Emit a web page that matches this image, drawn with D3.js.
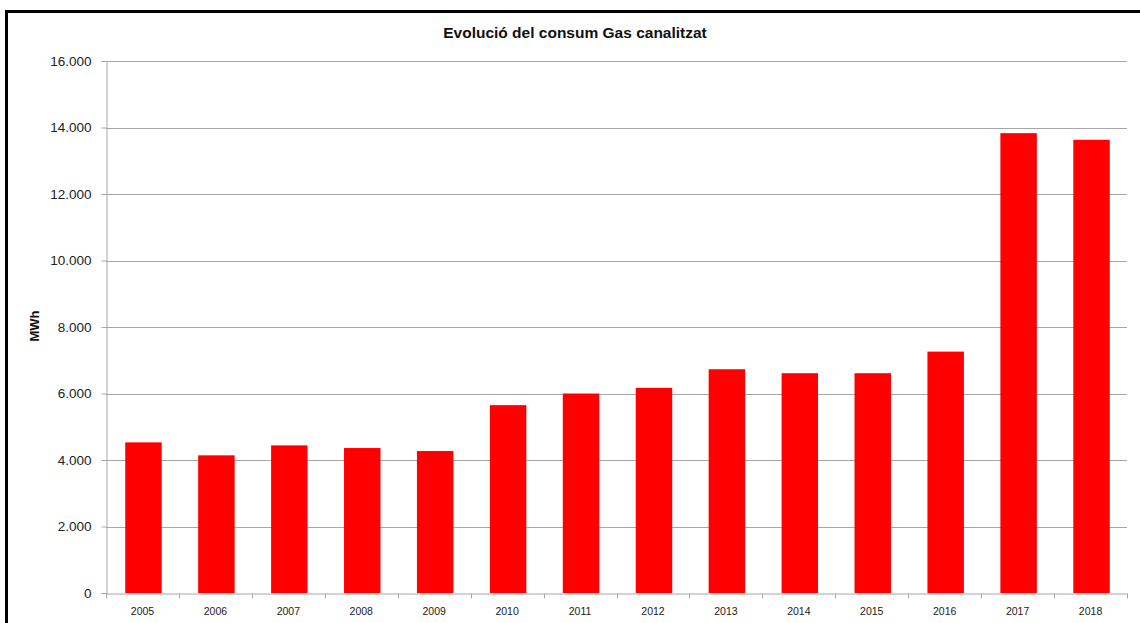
<!DOCTYPE html>
<html>
<head>
<meta charset="utf-8">
<script src="https://cdn.jsdelivr.net/npm/d3@7"></script>
<style>
  html, body { margin: 0; padding: 0; background: #fff; }
  svg { display: block; }
</style>
</head>
<body>
<svg id="chart" width="1140" height="623"></svg>
<script>
const categories = ["2005","2006","2007","2008","2009","2010","2011","2012","2013","2014","2015","2016","2017","2018"];
const consumMWh = [4530, 4140, 4440, 4360, 4270, 5650, 6000, 6170, 6730, 6610, 6610, 7260, 13830, 13630];
const yTicks = [0, 2000, 4000, 6000, 8000, 10000, 12000, 14000, 16000];
const titleText = "Evolució del consum Gas canalitzat";
const yTitle = "MWh";

const svg = d3.select("#chart");
const W = 1140, H = 623;
const m = { left: 106, right: 1127, top: 61, bottom: 593 };

const locale = d3.formatLocale({ decimal: ",", thousands: ".", grouping: [3], currency: ["", ""] });
const fmt = locale.format(",d");

const x = d3.scaleBand().domain(categories).range([m.left, m.right]).paddingInner(0.5).paddingOuter(0.25);
const y = d3.scaleLinear().domain([0, 16000]).range([m.bottom, m.top]);

svg.append("rect").attr("width", W).attr("height", H).attr("fill", "#fff");

// outer frame
svg.append("path")
  .attr("d", `M6.5,${H + 5} L6.5,11.5 L${W + 5},11.5`)
  .attr("fill", "none").attr("stroke", "#000").attr("stroke-width", 3);

// gridlines
svg.append("g").selectAll("line").data(yTicks.filter(d => d > 0)).join("line")
  .attr("x1", m.left).attr("x2", m.right)
  .attr("y1", d => Math.round(y(d)) + 0.5).attr("y2", d => Math.round(y(d)) + 0.5)
  .attr("stroke", "#a6a6a6").attr("stroke-width", 1);

// bars
svg.append("g").selectAll("rect").data(categories).join("rect")
  .attr("x", d => x(d) + 1)
  .attr("width", x.bandwidth())
  .attr("y", (d, i) => y(consumMWh[i]))
  .attr("height", (d, i) => y(0) - y(consumMWh[i]))
  .attr("fill", "#ff0000");

// y axis
const yAxis = d3.axisLeft(y).tickValues(yTicks).tickFormat(fmt).tickSize(5).tickPadding(10);
const gy = svg.append("g").attr("transform", `translate(${m.left + 0.5},0)`).call(yAxis);
gy.select(".domain").attr("stroke", "#a6a6a6");
gy.selectAll(".tick line").attr("stroke", "#a6a6a6");
gy.selectAll(".tick text").attr("font-family", "Liberation Sans, Arial, sans-serif")
  .attr("font-size", "13.5px").attr("fill", "#222");

// x axis
const xAxis = d3.axisBottom(x).tickSize(0).tickPadding(14);
const gx = svg.append("g").attr("transform", `translate(0,${m.bottom + 0.5})`).call(xAxis);
gx.select(".domain").attr("stroke", "#a6a6a6");
gx.selectAll(".tick text").attr("font-family", "Liberation Sans, Arial, sans-serif")
  .attr("font-size", "10.5px").attr("fill", "#222");
// category boundary ticks
const bounds = d3.range(categories.length + 1);
gx.append("g").selectAll("line").data(bounds).join("line")
  .attr("x1", i => Math.round(m.left + (m.right - m.left) * i / categories.length) + 0.5)
  .attr("x2", i => Math.round(m.left + (m.right - m.left) * i / categories.length) + 0.5)
  .attr("y1", 0).attr("y2", 5)
  .attr("stroke", "#a6a6a6");

// title
svg.append("text").attr("x", 575).attr("y", 38).attr("text-anchor", "middle")
  .attr("font-family", "Liberation Sans, Arial, sans-serif").attr("font-weight", "bold")
  .attr("font-size", "15.5px").attr("fill", "#111").text(titleText);

// y title
svg.append("text").attr("transform", `translate(39,${326}) rotate(-90)`)
  .attr("text-anchor", "middle")
  .attr("font-family", "Liberation Sans, Arial, sans-serif").attr("font-weight", "bold")
  .attr("font-size", "13px").attr("fill", "#111").text(yTitle);
</script>
</body>
</html>
